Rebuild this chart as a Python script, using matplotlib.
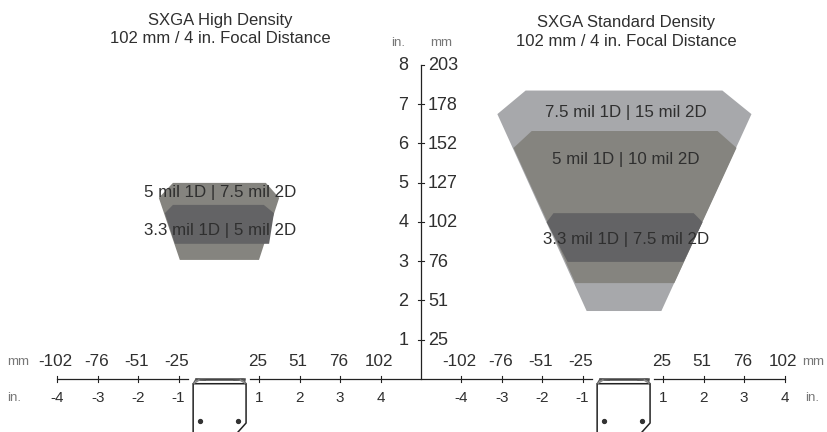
import matplotlib
matplotlib.use('Agg')
import matplotlib.pyplot as plt
from matplotlib.patches import Polygon

plt.rcParams['font.family'] = ['Liberation Sans', 'DejaVu Sans']

## values, everything in inches from the reader centre
# vertical scale
y_inches = [1, 2, 3, 4, 5, 6, 7, 8]
y_mm = [25, 51, 76, 102, 127, 152, 178, 203]

# horizontal scale
x_inches = [-4, -3, -2, -1, 1, 2, 3, 4]
x_mm = [-102, -76, -51, -25, 25, 51, 76, 102]

# read ranges, left panel (High Density)
hd_5mil_x = [-1.14, 1.16, 1.49, 0.99, -0.97, -1.49]
hd_5mil_y = [4.99, 4.99, 4.61, 3.03, 3.03, 4.61]
hd_33mil_x = [-1.14, 1.11, 1.36, 1.24, -1.09, -1.34]
hd_33mil_y = [4.43, 4.43, 4.22, 3.44, 3.44, 4.22]

# read ranges, right panel (Standard Density)
sd_75mil_x = [-2.41, 2.46, 3.18, 0.95, -0.90, -3.11]
sd_75mil_y = [7.34, 7.34, 6.74, 1.73, 1.73, 6.74]
sd_5mil_x = [-2.26, 2.34, 2.81, 1.27, -1.18, -2.71]
sd_5mil_y = [6.31, 6.31, 5.88, 2.44, 2.44, 5.88]
sd_33mil_x = [-1.72, 1.75, 1.97, 1.50, -1.37, -1.89]
sd_33mil_y = [4.22, 4.22, 3.99, 2.98, 2.98, 3.99]

# reader outline
reader_x = [-0.64, -0.64, 0.67, 0.67, 0.47]
reader_y = [-1.35, -0.12, -0.12, -1.12, -1.35]
screw_x = [-0.47, 0.47]
screw_y = [-1.07, -1.07]

LIGHT = '#a7a8ab'
MEDIUM = '#85847f'
DARK = '#636365'
TEXT = '#2f2f2f'
UNIT = '#777777'
LINE = '#222222'

PX_X = 40.4
PX_Y = 39.3
ORIGIN_X = 421
ORIGIN_Y = 379

fig = plt.figure(figsize=(8.28, 4.32), dpi=100)
ax = fig.add_axes([0, 0, 1, 1])
ax.set_xlim(-ORIGIN_X / PX_X, (828 - ORIGIN_X) / PX_X)
ax.set_ylim((ORIGIN_Y - 432) / PX_Y, ORIGIN_Y / PX_Y)
ax.axis('off')


def draw_range(xs, ys, centre, color, zorder):
    points = [(x + centre, y) for x, y in zip(xs, ys)]
    ax.add_patch(Polygon(points, closed=True, facecolor=color, edgecolor='none', zorder=zorder))


def draw_x_scale(centre):
    for inch, mm in zip(x_inches, x_mm):
        ax.plot([centre + inch, centre + inch], [-0.07, 0.07], color=LINE, lw=0.8, zorder=4)
        ax.text(centre + inch - 0.04, 0.44, str(mm), fontsize=12.3, color=TEXT, ha='center', va='center')
        ax.text(centre + inch, -0.48, str(inch), fontsize=11, color=TEXT, ha='center', va='center')


def draw_reader(centre):
    xs = [x + centre for x in reader_x]
    ax.plot(xs, reader_y, color=LINE, lw=1.1, zorder=4)
    # thick front window and the corner brackets
    ax.plot([centre - 0.58, centre + 0.62], [0, 0], color='#444444', lw=1.8, zorder=4)
    for side, edge in ((1, reader_x[1] + centre), (-1, reader_x[2] + centre)):
        ax.plot([edge, edge + side * 0.07, edge + side * 0.3],
                [-0.12, 0.0, -0.03], color='#555555', lw=0.9, zorder=4)
        ax.plot([edge + side * 0.03, edge + side * 0.14],
                [-0.1, -0.03], color='#888888', lw=1.2, zorder=4)
    for x, y in zip(screw_x, screw_y):
        ax.plot(x + centre, y, ls='none', marker='o', ms=2.8, color='#333333', zorder=4)


# left panel
draw_range(hd_5mil_x, hd_5mil_y, -5, MEDIUM, 1)
draw_range(hd_33mil_x, hd_33mil_y, -5, DARK, 2)
# right panel
draw_range(sd_75mil_x, sd_75mil_y, 5, LIGHT, 1)
draw_range(sd_5mil_x, sd_5mil_y, 5, MEDIUM, 2)
draw_range(sd_33mil_x, sd_33mil_y, 5, DARK, 3)

# horizontal axis runs through the middle, only broken by the two readers
ax.plot([-9, -5.76], [0, 0], color=LINE, lw=0.9, zorder=4)
ax.plot([-4.24, 4.24], [0, 0], color=LINE, lw=0.9, zorder=4)
ax.plot([5.76, 9], [0, 0], color=LINE, lw=0.9, zorder=4)

draw_x_scale(-5)
draw_x_scale(5)
draw_reader(-5)
draw_reader(5)

# vertical scale in the middle
ax.plot([0, 0], [0, 8], color=LINE, lw=0.9, zorder=4)
for inch, mm in zip(y_inches, y_mm):
    left = 0 if inch == 8 else -0.07
    ax.plot([left, 0.08], [inch, inch], color=LINE, lw=0.8, zorder=4)
    ax.text(-0.44, inch - 0.03, str(inch), fontsize=13, color=TEXT, ha='center', va='center')
    ax.text(0.17, inch - 0.03, str(mm), fontsize=13, color=TEXT, ha='left', va='center')

# unit labels
ax.text(-0.57, 8.56, 'in.', fontsize=9.5, color=UNIT, ha='center', va='center')
ax.text(0.49, 8.56, 'mm', fontsize=9.5, color=UNIT, ha='center', va='center')
ax.text(-9.97, 0.44, 'mm', fontsize=9.5, color=UNIT, ha='center', va='center')
ax.text(-10.07, -0.48, 'in.', fontsize=9.5, color=UNIT, ha='center', va='center')
ax.text(9.7, 0.44, 'mm', fontsize=9.5, color=UNIT, ha='center', va='center')
ax.text(9.67, -0.48, 'in.', fontsize=9.5, color=UNIT, ha='center', va='center')

# titles
ax.text(-4.97, 9.13, 'SXGA High Density', fontsize=12, color=TEXT, ha='center', va='center')
ax.text(-4.97, 8.67, '102 mm / 4 in. Focal Distance', fontsize=12, color=TEXT, ha='center', va='center')
ax.text(5.07, 9.08, 'SXGA Standard Density', fontsize=12, color=TEXT, ha='center', va='center')
ax.text(5.07, 8.60, '102 mm / 4 in. Focal Distance', fontsize=12, color=TEXT, ha='center', va='center')

# read range labels
ax.text(-4.97, 4.74, '5 mil 1D | 7.5 mil 2D', fontsize=12.2, color=TEXT, ha='center', va='center', zorder=5)
ax.text(-4.97, 3.79, '3.3 mil 1D | 5 mil 2D', fontsize=12.2, color=TEXT, ha='center', va='center', zorder=5)
ax.text(5.07, 6.77, '7.5 mil 1D | 15 mil 2D', fontsize=12.2, color=TEXT, ha='center', va='center', zorder=5)
ax.text(5.07, 5.58, '5 mil 1D | 10 mil 2D', fontsize=12.2, color=TEXT, ha='center', va='center', zorder=5)
ax.text(5.07, 3.54, '3.3 mil 1D | 7.5 mil 2D', fontsize=12.2, color=TEXT, ha='center', va='center', zorder=5)

fig.savefig('out.png', dpi=100)
